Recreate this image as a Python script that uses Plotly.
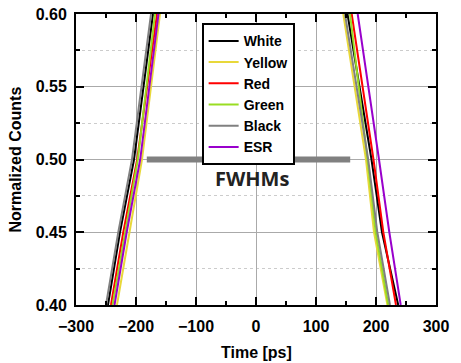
import plotly.graph_objects as go

# Normalized-count levels at which each edge was read
levels = [0.40, 0.45, 0.50, 0.60]

series = ["White", "Yellow", "Red", "Green", "Black", "ESR"]
colors = ["#000000", "#e8d83a", "#ff0000", "#99dd22", "#808080", "#9900cc"]

# Rising-edge times [ps] at each level
rise = {
    "White":  [-246.7, -226.7, -203.3, -171.7],
    "Yellow": [-231.7, -211.2, -190.0, -160.0],
    "Red":    [-241.7, -221.2, -198.0, -165.0],
    "Green":  [-239.0, -218.3, -197.0, -168.3],
    "Black":  [-250.0, -229.5, -206.7, -175.0],
    "ESR":    [-235.8, -215.5, -193.0, -162.5],
}
# Falling-edge times [ps] at each level
fall = {
    "White":  [237.0, 210.0, 192.5, 152.5],
    "Yellow": [219.0, 196.7, 183.3, 145.5],
    "Red":    [233.3, 212.2, 195.8, 159.5],
    "Green":  [220.5, 199.5, 185.8, 156.7],
    "Black":  [223.3, 202.2, 187.0, 148.3],
    "ESR":    [241.2, 222.2, 205.0, 169.5],
}

fwhm_x = [-182, 157]
fwhm_y = [0.50, 0.50]

font_family = "Liberation Sans, Arial, sans-serif"

fig = go.Figure()
for name, col in zip(series, colors):
    xs = rise[name] + [None] + fall[name]
    ys = levels + [None] + levels
    fig.add_trace(go.Scatter(x=xs, y=ys, mode="lines", name=name,
                             line=dict(color=col, width=2)))

fig.add_trace(go.Scatter(x=fwhm_x, y=fwhm_y, mode="lines", showlegend=False,
                         line=dict(color="#808080", width=6)))

fig.add_annotation(x=-7, y=0.4870, text="FWHMs", showarrow=False,
                   font=dict(family="Open Sans, sans-serif", size=20, color="#222222", weight="bold"))

# axis titles placed as paper annotations
fig.add_annotation(xref="paper", yref="paper", x=-61/360, y=0.5, text="Normalized Counts",
                   textangle=-90, showarrow=False, xanchor="center", yanchor="middle",
                   font=dict(family=font_family, size=16, color="black", weight="bold"))
fig.add_annotation(xref="paper", yref="paper", x=0.5, y=-47/291, text="Time [ps]",
                   showarrow=False, xanchor="center", yanchor="middle",
                   font=dict(family=font_family, size=16, color="black", weight="bold"))

axis_common = dict(
    showline=True, linecolor="black", linewidth=2, mirror="ticks",
    ticks="inside", ticklen=8, tickwidth=2, tickcolor="black",
    tickfont=dict(family=font_family, size=16, color="black", weight="bold"),
    zeroline=False, automargin=False, ticklabeloverflow="allow",
)

fig.update_xaxes(
    range=[-300, 300], dtick=100, tick0=0,
    showgrid=True, gridcolor="#aaaaaa", gridwidth=1,
    minor=dict(dtick=50, ticks="inside", ticklen=4, tickwidth=2, tickcolor="black", showgrid=False),
    ticklabelstandoff=6,
    **axis_common,
)
fig.update_yaxes(
    range=[0.40, 0.60], dtick=0.05, tick0=0.40, tickformat=".2f",
    showgrid=True, gridcolor="#aaaaaa", gridwidth=1,
    minor=dict(dtick=0.025, ticks="inside", ticklen=4, tickwidth=2, tickcolor="black",
               showgrid=True, gridcolor="#cccccc", griddash="dot", gridwidth=1),
    ticklabelstandoff=4,
    **axis_common,
)

# page body has an 8px margin: figure is sized/offset to compensate
fig.update_layout(
    width=453, height=355,
    margin=dict(l=68, r=25, t=6, b=58, autoexpand=False),
    paper_bgcolor="white", plot_bgcolor="white",
    showlegend=True,
    legend=dict(x=0.349, y=0.968, xanchor="left", yanchor="top",
                bgcolor="white", bordercolor="black", borderwidth=2,
                font=dict(family=font_family, size=14, color="black", weight="bold"),
                itemwidth=30, tracegroupgap=0),
)

fig.write_html("out.html")
